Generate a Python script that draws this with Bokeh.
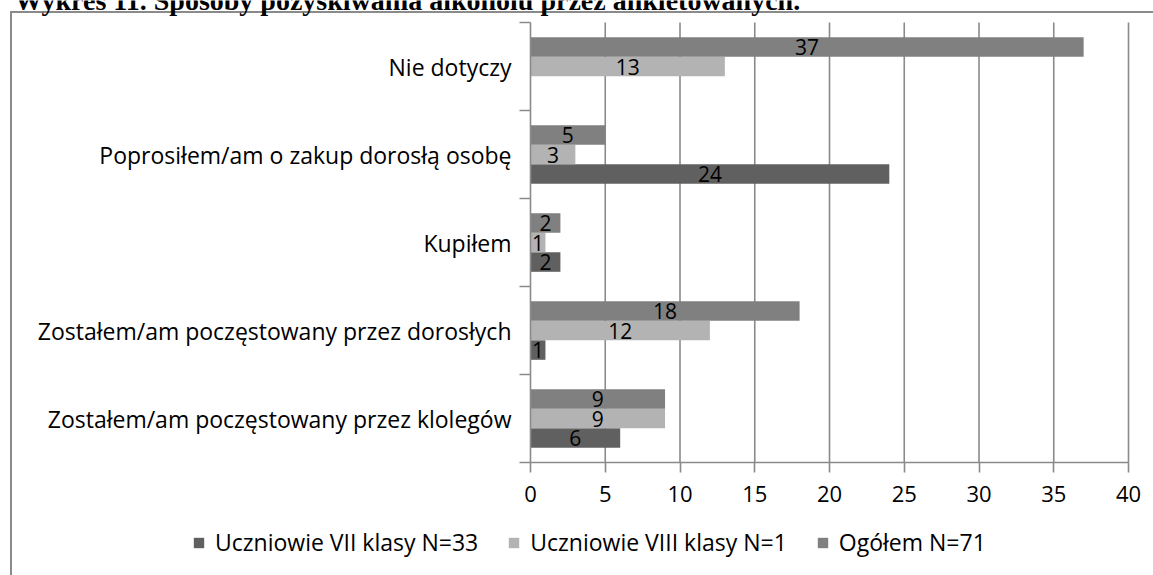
from bokeh.plotting import figure
from bokeh.models import (Range1d, FixedTicker, ColumnDataSource, Legend, LegendItem, Label)
from bokeh.core.properties import value
from bokeh.embed import file_html
from bokeh.resources import INLINE

# ---------------- data ----------------
categories = [
    "Nie dotyczy",
    "Poprosiłem/am o zakup dorosłą osobę",
    "Kupiłem",
    "Zostałem/am poczęstowany przez dorosłych",
    "Zostałem/am poczęstowany przez klolegów",
]
vii_values = [None, 24, 2, 1, 6]      # Uczniowie VII klasy N=33
viii_values = [13, 3, 1, 12, 9]       # Uczniowie VIII klasy N=1
total_values = [37, 5, 2, 18, 9]      # Ogółem N=71
series_names = ["Uczniowie VII klasy N=33", "Uczniowie VIII klasy N=1", "Ogółem N=71"]
x_ticks = [0, 5, 10, 15, 20, 25, 30, 35, 40]
title_text = "Wykres 11. Sposoby pozyskiwania alkoholu przez ankietowanych."

# ---------------- layout / style ----------------
W, H = 1153, 575
PLOT_L, PLOT_R, PLOT_T, PLOT_B = 530, 1128, 22, 462   # plot area in page pixels
FONT = "Open Sans"
GRAY = "#8a8a8a"
colors = ["#606060", "#b3b3b3", "#808080"]   # VII, VIII, Ogółem
BAR_H = 0.222
offsets = [-BAR_H, 0.0, BAR_H]                # VII bottom, VIII middle, Ogółem top

n = len(categories)
centers = [n - 1 - i for i in range(n)]       # top category highest
x_lo, x_hi = x_ticks[0], x_ticks[-1]
y_lo, y_hi = -0.5, n - 0.5

# the frame covers the whole canvas; axes are pinned at the plot-area edges
xs = (PLOT_R - PLOT_L) / (x_hi - x_lo)
ys_ = (PLOT_B - PLOT_T) / (y_hi - y_lo)
x_range = Range1d(x_lo - PLOT_L / xs, x_hi + (W - PLOT_R) / xs)
y_range = Range1d(y_lo - (H - PLOT_B) / ys_, y_hi + PLOT_T / ys_)

p = figure(width=W, height=H, output_backend="svg", toolbar_location=None,
           x_range=x_range, y_range=y_range, min_border=0)
p.title.visible = False
line = f"linear-gradient({GRAY}, {GRAY})"
p.styles = {
    "background-color": "white",
    "background-image": f"{line}, {line}",
    "background-size": "2px 100%, 100% 2px",
    "background-position": "10px 11px, 10px 11px",
    "background-repeat": "no-repeat",
}
p.outline_line_color = None
p.background_fill_color = None
p.border_fill_color = None
p.grid.visible = False

# vertical grid lines limited to the plot area (behind the bars)
p.segment(x0=x_ticks[1:], y0=y_lo, x1=x_ticks[1:], y1=y_hi,
          line_color=GRAY, line_width=1.6, level="underlay")

xa = p.xaxis[0]
xa.fixed_location = y_lo
xa.bounds = (x_lo, x_hi)
xa.ticker = FixedTicker(ticks=x_ticks, minor_ticks=[])
xa.axis_line_color = GRAY
xa.axis_line_width = 1.6
xa.major_tick_line_color = GRAY
xa.major_tick_line_width = 1.6
xa.major_tick_out = 10
xa.major_tick_in = 0
xa.minor_tick_line_color = None
xa.major_label_text_font = FONT
xa.major_label_text_font_size = "22px"
xa.major_label_text_color = "black"
xa.major_label_standoff = 13

ya = p.yaxis[0]
ya.fixed_location = x_lo
ya.bounds = (y_lo, y_hi)
ya.ticker = FixedTicker(ticks=centers, minor_ticks=[c - 0.5 for c in range(n + 1)])
ya.major_label_overrides = {c: categories[i] for i, c in enumerate(centers)}
ya.axis_line_color = GRAY
ya.axis_line_width = 1.6
ya.major_tick_line_color = None
ya.major_tick_out = 0
ya.major_tick_in = 0
ya.minor_tick_line_color = GRAY
ya.minor_tick_line_width = 1.6
ya.minor_tick_out = 11
ya.minor_tick_in = 0
ya.major_label_text_font = FONT
ya.major_label_text_font_size = "23px"
ya.major_label_text_color = "black"
ya.major_label_standoff = 8

series = [vii_values, viii_values, total_values]
renderers = []
for vals, col, off in zip(series, colors, offsets):
    ys = [c + off for c in centers]
    rs = [float("nan") if v is None else v for v in vals]
    src = ColumnDataSource(dict(y=ys, right=rs))
    r = p.hbar(y="y", left=0, right="right", height=BAR_H, source=src,
               fill_color=col, line_color=None)
    renderers.append(r)
    lab = [(y, v) for y, v in zip(ys, vals) if v]
    lsrc = ColumnDataSource(dict(x=[v / 2 for _, v in lab], y=[y for y, _ in lab],
                                 t=[str(v) for _, v in lab]))
    p.text(x="x", y="y", text="t", source=lsrc, text_font=value(FONT),
           text_font_size="21px", text_align="center", text_baseline="middle",
           text_color="black")

legend = Legend(items=[LegendItem(label=nm, renderers=[r]) for nm, r in zip(series_names, renderers)],
                orientation="horizontal", location=(192, 17),
                label_text_font=FONT, label_text_font_size="23px", label_text_color="black",
                glyph_width=13, glyph_height=13, label_height=20, label_standoff=10, spacing=29,
                padding=0, margin=0, border_line_color=None, background_fill_alpha=0)
p.add_layout(legend, "center")

# document title, cut off at the top of the page as in the reference
p.add_layout(Label(x=14, y=H, x_units="screen", y_units="screen",
                   text=title_text, text_font="Liberation Serif", text_font_style="bold",
                   text_font_size="28px", text_baseline="alphabetic", text_color="black"))

open("out.html", "w").write(file_html(p, INLINE))
